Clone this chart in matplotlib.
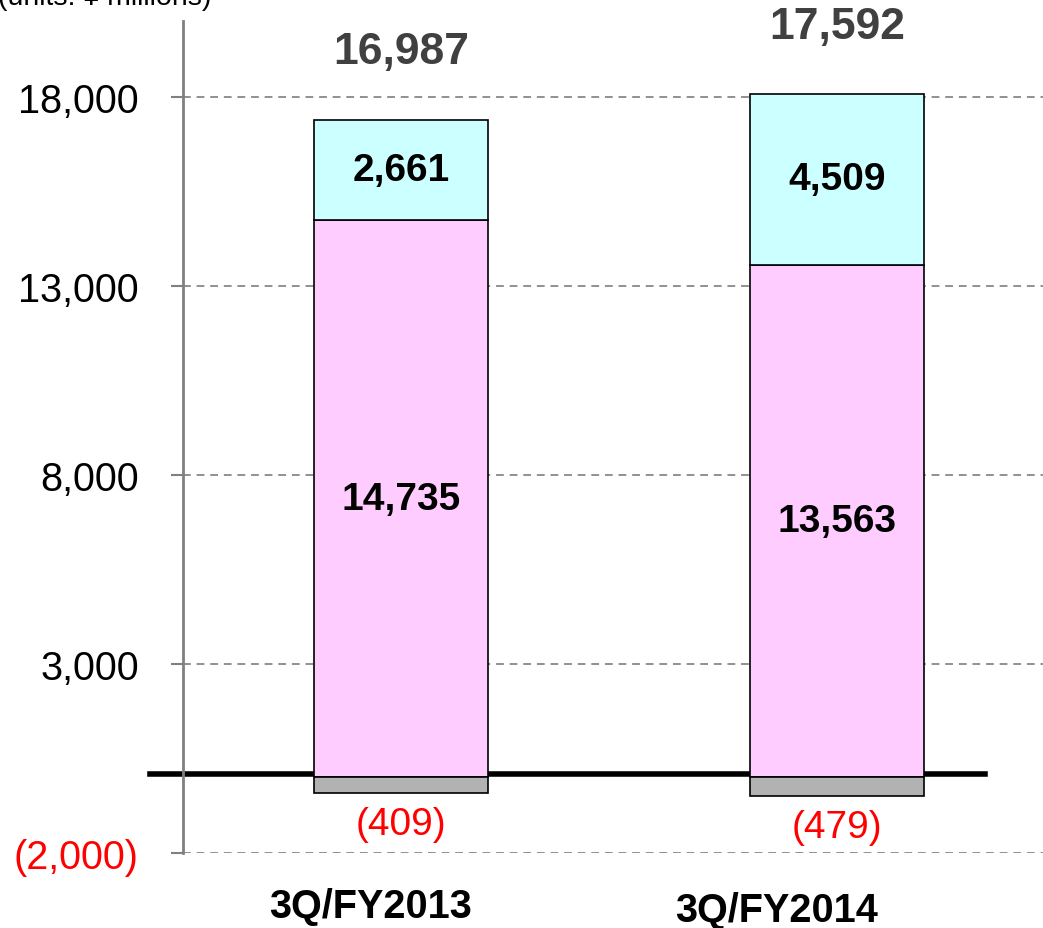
import matplotlib.pyplot as plt

plt.rcParams['font.family'] = ['Liberation Sans', 'DejaVu Sans']

# data (units: yen millions)
periods = ['3Q/FY2013', '3Q/FY2014']
seg_pink = [14735, 13563]
seg_cyan = [2661, 4509]
seg_gray = [-409, -479]
totals = [16987, 17592]
yticks = [-2000, 3000, 8000, 13000, 18000]
ytick_labels = ['(2,000)', '3,000', '8,000', '13,000', '18,000']

x = [0, 1]
w = 0.4

fig = plt.figure(figsize=(10.43, 9.29), dpi=100)
ax = fig.add_axes([0.1755, 0.0807, 0.836, 0.8952])

# zero line, behind the bars
ax.plot([-0.576, 1.34], [100, 100], color='black', lw=4, zorder=1, clip_on=False)

ax.bar(x, seg_pink, w, color='#FFCCFF', edgecolor='black', lw=1.2, zorder=2)
ax.bar(x, seg_cyan, w, bottom=seg_pink, color='#CCFFFF', edgecolor='black', lw=1.2, zorder=2)
ax.bar(x, seg_gray, w, color='#B2B2B2', edgecolor='black', lw=1.2, zorder=2)

for i in range(len(x)):
    ax.text(x[i], seg_pink[i] / 2, f'{seg_pink[i]:,}', ha='center', va='center',
            fontsize=28, fontweight='bold', color='black', zorder=3)
    ax.text(x[i], seg_pink[i] + seg_cyan[i] / 2, f'{seg_cyan[i]:,}', ha='center', va='center',
            fontsize=28, fontweight='bold', color='black', zorder=3)
    ax.text(x[i], seg_gray[i] - 830, f'({-seg_gray[i]:,})', ha='center', va='center',
            fontsize=28, color='red', zorder=3)
    ax.text(x[i], seg_pink[i] + seg_cyan[i] + 1800, f'{totals[i]:,}', ha='center', va='center',
            fontsize=32, fontweight='bold', color='#404040', zorder=3, clip_on=False)

# category labels sit a bit left of the bars in the original
ax.text(-0.071, -3400, periods[0], ha='center', va='center', fontsize=28.5,
        fontweight='bold', clip_on=False)
ax.text(0.862, -3500, periods[1], ha='center', va='center', fontsize=28.5,
        fontweight='bold', clip_on=False)

ax.set_xlim(-0.5, 1.5)
ax.set_ylim(-2000, 20000)
ax.set_yticks(yticks)
ax.set_yticklabels(ytick_labels, fontsize=28.5)
ax.get_yticklabels()[0].set_color('red')
ax.set_xticks([])
ax.tick_params(axis='y', length=9, width=1.5, color='#808080', pad=23)

for s in ['top', 'right', 'bottom']:
    ax.spines[s].set_visible(False)
ax.spines['left'].set_color('#808080')
ax.spines['left'].set_linewidth(2)

ax.yaxis.grid(True, linestyle=(0, (4, 3)), color='#909090', lw=1.4)
ax.set_axisbelow(True)

fig.text(-0.002, 0.9946, '(units: \u00a5 millions)', fontsize=20.5, ha='left', va='baseline')

fig.savefig('out.png', dpi=100)
